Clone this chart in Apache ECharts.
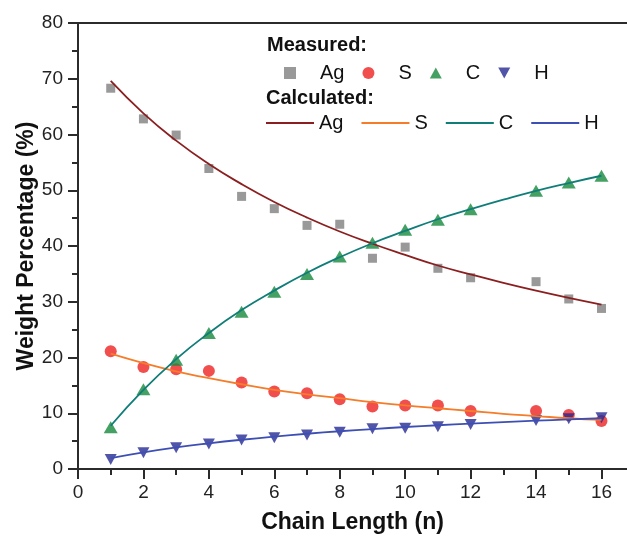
<!DOCTYPE html>
<html>
<head>
<meta charset="utf-8">
<script src="https://cdn.jsdelivr.net/npm/echarts@6/dist/echarts.min.js"></script>
<style>
html,body{margin:0;padding:0;background:#fff;}
#chart{width:627px;height:541px;}
</style>
</head>
<body>
<div id="chart"></div>
<script>
// Chain length values
const measuredN = [1,2,3,4,5,6,7,8,9,10,11,12,14,15,16];
const calcN = [1,2,3,4,5,6,7,8,9,10,11,12,13,14,15,16];

// Measured weight percentages
const agMeasured = [68.3,62.8,59.9,53.9,48.9,46.7,43.7,43.9,37.8,39.8,36.0,34.3,33.6,30.5,28.8];
const sMeasured  = [21.1,18.3,17.9,17.6,15.5,13.9,13.6,12.5,11.2,11.4,11.4,10.4,10.4,9.7,8.6];
const cMeasured  = [7.5,14.3,19.6,24.4,28.2,31.8,35.0,38.1,40.6,42.9,44.7,46.6,49.9,51.4,52.6];
const hMeasured  = [1.7,2.9,3.8,4.5,5.2,5.6,6.1,6.6,7.2,7.3,7.6,8.0,8.7,9.0,9.2];

// Calculated weight percentages
const agCalc = [69.6,63.8,58.9,54.7,51.1,47.9,45.1,42.6,40.4,38.4,36.5,34.9,33.4,32.0,30.7,29.5];
const sCalc  = [20.7,19.0,17.5,16.3,15.2,14.2,13.4,12.7,12.0,11.4,10.9,10.4,9.9,9.5,9.1,8.8];
const cCalc  = [7.75,14.2,19.7,24.4,28.5,32.0,35.2,38.0,40.5,42.7,44.8,46.6,48.3,49.9,51.3,52.6];
const hCalc  = [1.95,2.98,3.86,4.60,5.25,5.82,6.32,6.77,7.17,7.53,7.85,8.15,8.42,8.67,8.89,9.10];

// Tick labels / tick positions
const xTickLabels = [0,2,4,6,8,10,12,14,16];
const xMinorTicks = [1,3,5,7,9,11,13,15];

const FONT = '"Liberation Sans", Arial, sans-serif';
const AXIS_COLOR = '#2b2b2b';
const X_MAX = 16.78;

function pairs(xs, ys){ return xs.map((x,i)=>[x, ys[i]]); }

const SQUARE = 'path://M0,0L10,0L10,10L0,10Z';
const UPTRI = 'path://M5,0L10,9L0,9Z';
const DOWNTRI = 'path://M0,0L10,0L5,9Z';
const LINEICON = 'path://M0,0L48,0L48,1.8L0,1.8Z';

const chart = echarts.init(document.getElementById('chart'), null, {renderer:'canvas'});

const scatterBase = {type:'scatter', xAxisIndex:0, yAxisIndex:0, z:3};
const lineBase = {type:'line', smooth:true, symbol:'none', showSymbol:false, xAxisIndex:0, yAxisIndex:0, z:5};

chart.setOption({
  animation:false,
  backgroundColor:'#fff',
  textStyle:{fontFamily:FONT},
  grid:{left:78, right:0, top:23, bottom:72, containLabel:false},
  xAxis:[{
    type:'value', min:0, max:X_MAX,
    position:'bottom',
    name:'Chain Length (n)', nameLocation:'middle', nameGap:42, nameMoveOverlap:false,
    nameTextStyle:{fontFamily:FONT, fontSize:23, fontWeight:'bold', color:'#111'},
    axisLine:{show:true, lineStyle:{color:AXIS_COLOR, width:2}},
    axisTick:{show:true, inside:false, length:10, customValues:xTickLabels, lineStyle:{color:AXIS_COLOR, width:2}},
    minorTick:{show:false},
    axisLabel:{fontFamily:FONT, fontSize:19, color:'#222', margin:14, customValues:xTickLabels},
    splitLine:{show:false}
  },{
    type:'value', min:0, max:X_MAX,
    position:'bottom',
    axisLine:{show:false},
    axisTick:{show:true, inside:false, length:6, customValues:xMinorTicks, lineStyle:{color:AXIS_COLOR, width:2}},
    axisLabel:{show:false}, splitLine:{show:false}
  },{
    type:'value', min:0, max:X_MAX,
    position:'top',
    axisLine:{show:true, lineStyle:{color:AXIS_COLOR, width:2}},
    axisTick:{show:false}, axisLabel:{show:false}, splitLine:{show:false}
  }],
  yAxis:{
    type:'value', min:0, max:80, interval:10,
    name:'Weight Percentage (%)', nameLocation:'middle', nameGap:40, nameRotate:90, nameMoveOverlap:false,
    nameTextStyle:{fontFamily:FONT, fontSize:23, fontWeight:'bold', color:'#111'},
    axisLine:{show:true, lineStyle:{color:AXIS_COLOR, width:2}},
    axisTick:{show:true, inside:false, length:10, lineStyle:{color:AXIS_COLOR, width:2}},
    minorTick:{show:true, splitNumber:2, length:6, lineStyle:{color:AXIS_COLOR, width:2}},
    axisLabel:{fontFamily:FONT, fontSize:19, color:'#222', margin:15},
    splitLine:{show:false}
  },
  legend:[{
    left:284, top:63, orient:'horizontal', padding:0,
    itemWidth:12, itemHeight:12, itemGap:18,
    textStyle:{fontFamily:FONT, fontSize:20, color:'#111', padding:[0,0,0,19]},
    formatter:function(name){ return name.split('_')[0]; },
    data:[
      {name:'Ag_m', icon:SQUARE},
      {name:'S_m', icon:'circle'},
      {name:'C_m', icon:UPTRI},
      {name:'H_m', icon:DOWNTRI}
    ],
    selectedMode:false
  },{
    left:266, top:113, orient:'horizontal', padding:0,
    itemWidth:48, itemHeight:12, itemGap:18,
    textStyle:{fontFamily:FONT, fontSize:20, color:'#111'},
    formatter:function(name){ return name.split('_')[0]; },
    data:[
      {name:'Ag_c', icon:LINEICON},
      {name:'S_c', icon:LINEICON},
      {name:'C_c', icon:LINEICON},
      {name:'H_c', icon:LINEICON}
    ],
    selectedMode:false
  }],
  graphic:[
    {type:'text', left:267, top:35, style:{text:'Measured:', font:'bold 20px ' + FONT, fill:'#111'}},
    {type:'text', left:266, top:88, style:{text:'Calculated:', font:'bold 20px ' + FONT, fill:'#111'}}
  ],
  series:[
    Object.assign({}, scatterBase, {name:'Ag_m', data:pairs(measuredN, agMeasured), symbol:SQUARE, symbolSize:9, itemStyle:{color:'#7f7f7f'}}),
    Object.assign({}, scatterBase, {name:'S_m', data:pairs(measuredN, sMeasured), symbol:'circle', symbolSize:12, itemStyle:{color:'#ee2222'}}),
    Object.assign({}, scatterBase, {name:'C_m', data:pairs(measuredN, cMeasured), symbol:UPTRI, symbolSize:[14,12], itemStyle:{color:'#178a3c'}}),
    Object.assign({}, scatterBase, {name:'H_m', data:pairs(measuredN, hMeasured), symbol:DOWNTRI, symbolSize:[12,11], itemStyle:{color:'#262a92'}}),
    Object.assign({}, lineBase, {name:'Ag_c', data:pairs(calcN, agCalc), lineStyle:{color:'#8b1f1f', width:1.8}, itemStyle:{color:'#8b1f1f'}}),
    Object.assign({}, lineBase, {name:'S_c', data:pairs(calcN, sCalc), lineStyle:{color:'#f57c28', width:1.8}, itemStyle:{color:'#f57c28'}}),
    Object.assign({}, lineBase, {name:'C_c', data:pairs(calcN, cCalc), lineStyle:{color:'#0f7d78', width:1.8}, itemStyle:{color:'#0f7d78'}}),
    Object.assign({}, lineBase, {name:'H_c', data:pairs(calcN, hCalc), lineStyle:{color:'#3d4fb4', width:1.8}, itemStyle:{color:'#3d4fb4'}})
  ]
});
</script>
</body>
</html>
